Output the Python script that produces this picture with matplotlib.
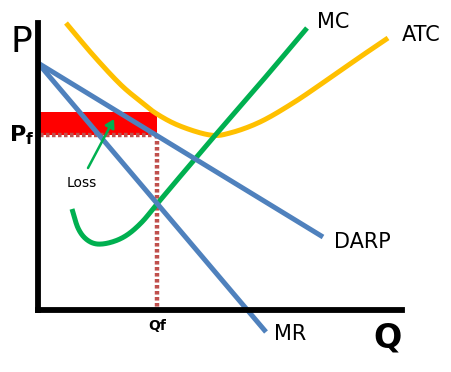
import matplotlib
matplotlib.use("Agg")
import matplotlib.pyplot as plt
import numpy as np
from matplotlib.patches import Rectangle

# ---- data (Q, P) in diagram units, origin at the axes corner ----
darp_q = [0, 285]
darp_p = [247, 73]

mr_q = [0, 228]
mr_p = [247, -22]

atc_q = [28, 55, 82, 102, 119, 142, 172, 192, 222, 255, 289, 322, 350]
atc_p = [287, 255, 226, 209, 196, 184, 175, 177, 188, 207, 230, 253, 272]

mc_q = [34, 40, 48, 59, 74, 89, 104, 119, 140, 180, 225, 269]
mc_p = [101, 82, 71, 66, 68, 75, 88, 106, 131, 178, 230, 282]

q_f = 119
p_f = 175
atc_at_qf = 198

axis_top = 287
axis_right = 364

BLUE = "#4f81bd"
GREEN = "#00b050"
YELLOW = "#ffc000"
RED = "#ff0000"
DOT = "#c0504d"


def smooth(xs, ys, n=20):
    """Catmull-Rom rendering path through the given points."""
    p = np.column_stack([xs, ys]).astype(float)
    p = np.vstack([2 * p[0] - p[1], p, 2 * p[-1] - p[-2]])
    out = []
    t = np.linspace(0, 1, n, endpoint=False)[:, None]
    for i in range(1, len(p) - 2):
        p0, p1, p2, p3 = p[i - 1], p[i], p[i + 1], p[i + 2]
        seg = 0.5 * ((2 * p1) + (-p0 + p2) * t + (2 * p0 - 5 * p1 + 4 * p2 - p3) * t ** 2
                     + (-p0 + 3 * p1 - 3 * p2 + p3) * t ** 3)
        out.append(seg)
    out.append(p[-2][None, :])
    out = np.vstack(out)
    return out[:, 0], out[:, 1]


fig = plt.figure(figsize=(4.52, 3.72), dpi=100)
ax = fig.add_axes([0, 0, 1, 1])
ax.set_xlim(-38, 414)
ax.set_ylim(-62, 310)
ax.axis("off")

# loss rectangle
ax.add_patch(Rectangle((0, p_f), q_f, atc_at_qf - p_f, color=RED, lw=0, zorder=1))

# dotted guides
ax.plot([2, q_f], [p_f, p_f], color=DOT, lw=3.2, ls=(0, (0.8, 0.55)), zorder=2)
ax.plot([q_f, q_f], [p_f, 2], color=DOT, lw=3.2, ls=(0, (0.8, 0.55)), zorder=2)

lw = 3.6
ax.plot(*smooth(atc_q, atc_p), color=YELLOW, lw=lw, solid_capstyle="butt", solid_joinstyle="round", zorder=3)
ax.plot(*smooth(mc_q, mc_p), color=GREEN, lw=lw, solid_capstyle="butt", solid_joinstyle="round", zorder=4)
ax.plot(darp_q, darp_p, color=BLUE, lw=lw, solid_capstyle="butt", zorder=5)
ax.plot(mr_q, mr_p, color=BLUE, lw=lw, solid_capstyle="butt", zorder=5)

# axes
ax.plot([0, 0], [axis_top, 0], color="black", lw=4.2, solid_capstyle="projecting", zorder=6)
ax.plot([0, axis_right], [0, 0], color="black", lw=4.2, solid_capstyle="projecting", zorder=6)

# arrow
ax.annotate("", xy=(76, 191), xytext=(50, 142),
            arrowprops=dict(arrowstyle="-|>,head_length=0.5,head_width=0.3",
                            color=GREEN, lw=1.8, shrinkA=0, shrinkB=0), zorder=7)

# labels
ax.text(-17, 268, "P", fontsize=26, ha="center", va="center")
ax.text(-16, 175, r"P$_\mathregular{f}$", fontsize=16, ha="center", va="center", fontweight="bold")
ax.text(119, -16, "Qf", fontsize=10, ha="center", va="center", fontweight="bold")
ax.text(44, 127, "Loss", fontsize=10, ha="center", va="center")
ax.text(252, -24, "MR", fontsize=15, ha="center", va="center")
ax.text(324, 68, "DARP", fontsize=15, ha="center", va="center")
ax.text(350, -28, "Q", fontsize=24, ha="center", va="center", fontweight="bold")
ax.text(295, 288, "MC", fontsize=15, ha="center", va="center")
ax.text(383, 275, "ATC", fontsize=15, ha="center", va="center")

fig.savefig("out.png", dpi=100)
